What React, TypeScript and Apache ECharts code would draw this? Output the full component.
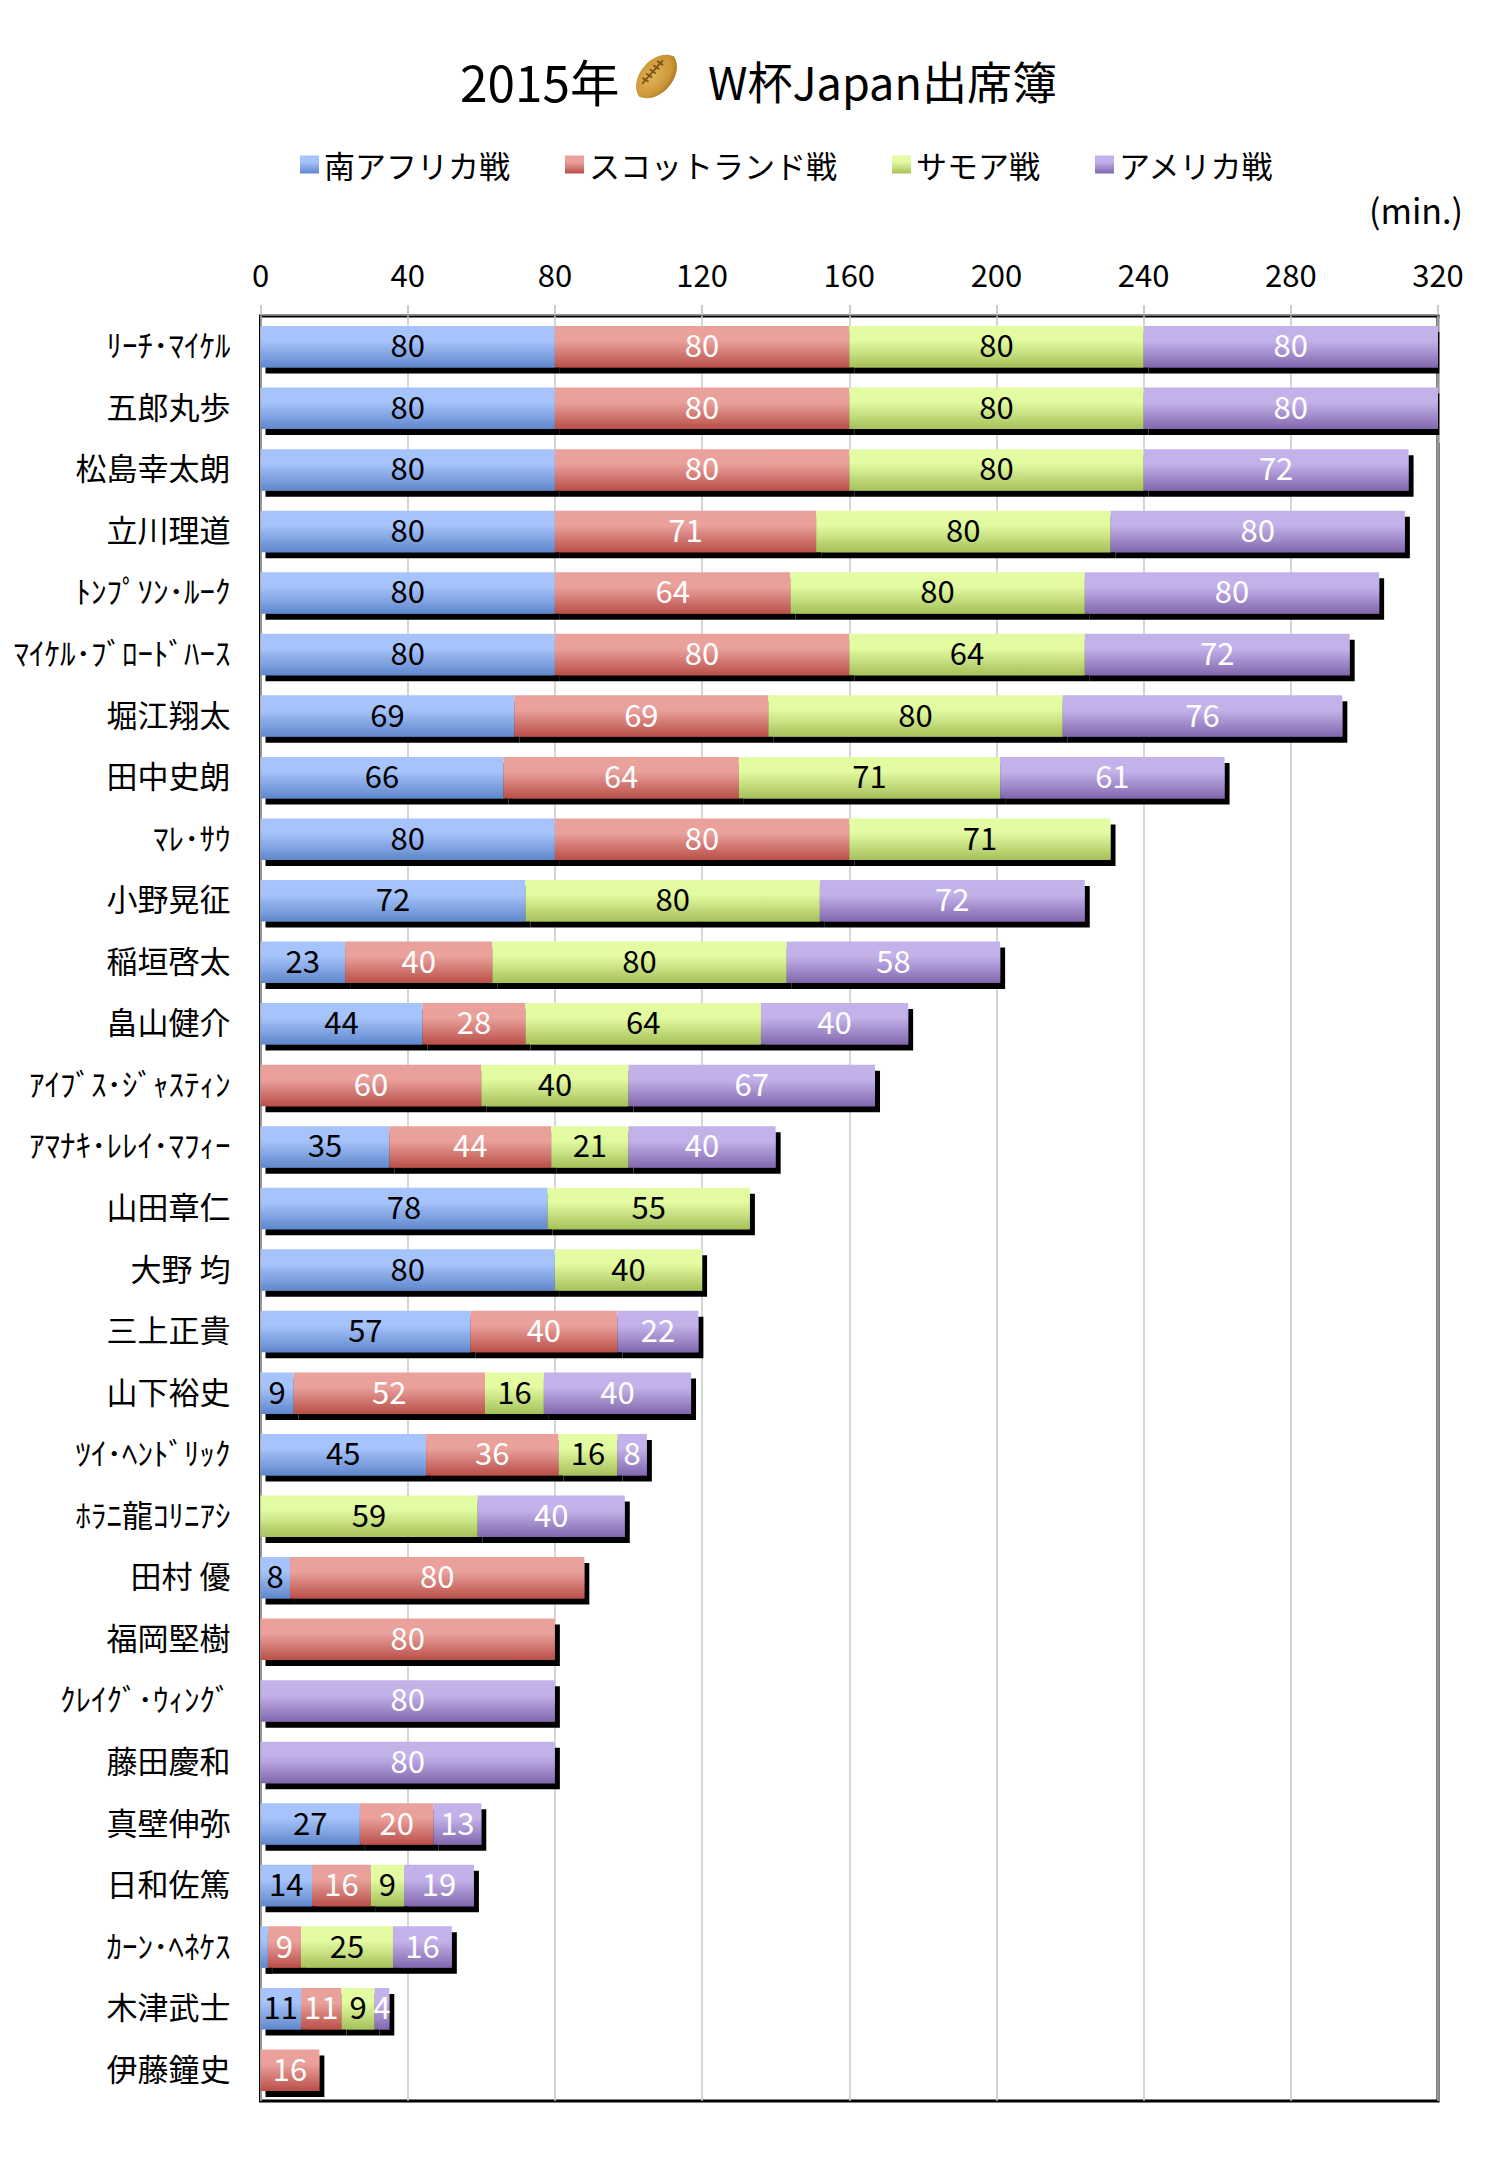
import React, { useEffect, useRef } from "react";
import * as echarts from "echarts";

const players = ["ﾘｰﾁ･ﾏｲｹﾙ","五郎丸歩","松島幸太朗","立川理道","ﾄﾝﾌﾟｿﾝ･ﾙｰｸ","ﾏｲｹﾙ･ﾌﾞﾛｰﾄﾞﾊｰｽ","堀江翔太","田中史朗","ﾏﾚ･ｻｳ","小野晃征","稲垣啓太","畠山健介","ｱｲﾌﾞｽ･ｼﾞｬｽﾃｨﾝ","ｱﾏﾅｷ･ﾚﾚｲ･ﾏﾌｨｰ","山田章仁","大野 均","三上正貴","山下裕史","ﾂｲ･ﾍﾝﾄﾞﾘｯｸ","ﾎﾗﾆ龍ｺﾘﾆｱｼ","田村 優","福岡堅樹","ｸﾚｲｸﾞ･ｳｨﾝｸﾞ","藤田慶和","真壁伸弥","日和佐篤","ｶｰﾝ･ﾍﾈｹｽ","木津武士","伊藤鐘史"];
const southAfrica = [80,80,80,80,80,80,69,66,80,72,23,44,null,35,78,80,57,9,45,null,8,null,null,null,27,14,2,11,null];
const scotland = [80,80,80,71,64,80,69,64,80,null,40,28,60,44,null,null,40,52,36,null,80,80,null,null,20,16,9,11,16];
const samoa = [80,80,80,80,80,64,80,71,71,80,80,64,40,21,55,40,null,16,16,59,null,null,null,null,null,9,25,9,null];
const usa = [80,80,72,80,80,72,76,61,null,72,58,40,67,40,null,null,22,40,8,40,null,null,80,80,13,19,16,4,null];
const seriesNames = ["南アフリカ戦","スコットランド戦","サモア戦","アメリカ戦"];
const FONT = '"Noto Sans CJK JP","Noto Sans",sans-serif';

const grad = (a: string, b: string) => new echarts.graphic.LinearGradient(0, 0, 0, 1, [
  { offset: 0, color: a }, { offset: 0.35, color: a }, { offset: 1, color: b },
]);

const seriesStyles = [
  { top: "#A6C3FB", bottom: "#5F87CB", text: "#000" },
  { top: "#EAA19C", bottom: "#B94F48", text: "#fff" },
  { top: "#E3FBA1", bottom: "#A6C05A", text: "#000" },
  { top: "#C3B2EA", bottom: "#8267AD", text: "#fff" },
];

echarts.graphic.registerShape("football", echarts.graphic.extendPath("M-29 0C-22 -25 22 -25 29 0C22 25 -22 25 -29 0Z", {}));

export default function App() {
  const ref = useRef<HTMLDivElement>(null);
  useEffect(() => {
    document.body.style.margin = "0";
    const chart = echarts.init(ref.current!, undefined, { renderer: "svg" });
    const values = [southAfrica, scotland, samoa, usa];
    const laces = [-11, -5, 1, 7, 13].map((x) => ({
      type: "line", shape: { x1: x, y1: -11.5, x2: x + 1, y2: -3 }, style: { stroke: "#7A5518", lineWidth: 2 },
    }));
    chart.setOption({
      animation: false,
      backgroundColor: "#fff",
      textStyle: { fontFamily: FONT },
      title: [
        { text: "2015年", left: 455, top: 48, textStyle: { fontFamily: FONT, fontSize: 49.5, fontWeight: "normal", color: "#000", lineHeight: 54 } },
        { text: "W杯Japan出席簿", left: 703, top: 48, textStyle: { fontFamily: FONT, fontSize: 45, fontWeight: "normal", color: "#000", lineHeight: 54 } },
      ],
      legend: {
        left: 300, top: 149, padding: 0, itemWidth: 19, itemHeight: 18, itemGap: 55, icon: "rect",
        data: seriesNames,
        itemStyle: { shadowBlur: 0, shadowOffsetX: 0, shadowOffsetY: 0, shadowColor: "transparent" },
        textStyle: { fontFamily: FONT, fontSize: 31, color: "#000", padding: [0, 0, 6, 0] },
      },
      grid: { left: 260.5, right: 62, top: 316, bottom: 79, show: true, borderColor: "#000", borderWidth: 3, backgroundColor: "transparent" },
      xAxis: {
        type: "value", position: "top", min: 0, max: 320, interval: 40,
        axisLine: { show: true, onZero: false, lineStyle: { color: "#999", width: 1.5 } },
        axisTick: { show: true, length: 10, lineStyle: { color: "#bbb", width: 1.5 } },
        splitLine: { show: true, lineStyle: { color: "#c9c9c9", width: 1.5 } },
        axisLabel: { fontFamily: FONT, fontSize: 31, color: "#000", margin: 26 },
        offset: 1,
      },
      yAxis: {
        type: "category", inverse: true, data: players,
        axisLine: { show: false }, axisTick: { show: false },
        axisLabel: { interval: 0, fontFamily: FONT, fontSize: 31, color: "#000", margin: 30, verticalAlign: "bottom", lineHeight: 6 },
      },
      series: seriesNames.map((name, i) => ({
        name, type: "bar", stack: "total", barWidth: 41.5, data: values[i], z: 3,
        itemStyle: {
          color: grad(seriesStyles[i].top, seriesStyles[i].bottom),
          shadowColor: "#000", shadowBlur: 0, shadowOffsetX: 5, shadowOffsetY: 6,
        },
        label: {
          show: true, position: "inside", offset: [0, -3], fontFamily: FONT, fontSize: 31, color: seriesStyles[i].text,
          formatter: (p: any) => (p.value == null || p.value < 3 ? "" : String(p.value)),
        },
      })),
      graphic: [
        { type: "rect", z: 50, silent: true, shape: { x: 1439.5, y: 318, width: 12, height: 125 }, style: { fill: "#fff" } },
        { type: "text", left: 1369, top: 192, style: { text: "(min.)", fontFamily: FONT, fontSize: 34, fill: "#000" } },
        {
          type: "group", x: 656.5, y: 76.5, rotation: 0.85, scaleX: 0.92, scaleY: 0.85, silent: true,
          children: [
            { type: "football", style: { fill: new echarts.graphic.RadialGradient(0.45, 0.4, 0.65, [
              { offset: 0, color: "#E0B45A" }, { offset: 0.7, color: "#CB9636" }, { offset: 1, color: "#A0701F" },
            ]) } },
            { type: "line", shape: { x1: -16, y1: -7, x2: 18, y2: -7 }, style: { stroke: "#7A5518", lineWidth: 2 } },
            ...laces,
          ],
        },
      ],
    });
    return () => chart.dispose();
  }, []);
  return <div ref={ref} style={{ width: 1500, height: 2180, background: "#fff" }} />;
}
